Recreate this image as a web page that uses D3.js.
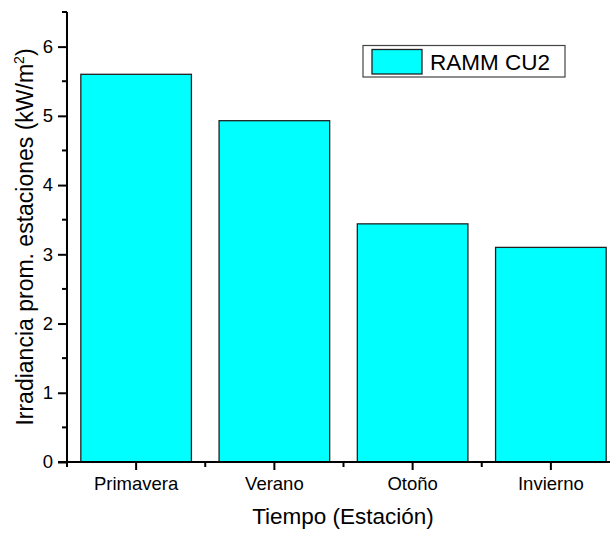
<!DOCTYPE html>
<html>
<head>
<meta charset="utf-8">
<script src="https://cdn.jsdelivr.net/npm/d3@7"></script>
<style>
  html, body { margin: 0; padding: 0; background: #fff; }
  svg { display: block; font-family: "Liberation Sans", Arial, sans-serif; }
</style>
</head>
<body>
<svg id="chart" width="610" height="533"></svg>
<script>
const categories = ["Primavera", "Verano", "Otoño", "Invierno"];
const values = [5.60, 4.93, 3.44, 3.10];
const seriesName = "RAMM CU2";
const yTicks = [0, 1, 2, 3, 4, 5, 6];
const yMinorTicks = [0.5, 1.5, 2.5, 3.5, 4.5, 5.5, 6.5];

const svg = d3.select("#chart");
const x0 = 67, x1 = 620, yTop = 12, yBot = 462;
const FONT = "Liberation Sans, Arial, sans-serif";

const x = d3.scaleBand().domain(categories).range([x0, x1]).paddingInner(0.2).paddingOuter(0.1);
const y = d3.scaleLinear().domain([0, 6.5]).range([yBot, yTop]);

// bars
svg.append("g").selectAll("rect").data(values).join("rect")
  .attr("x", (d, i) => x(categories[i]))
  .attr("y", d => y(d))
  .attr("width", x.bandwidth())
  .attr("height", d => y(0) - y(d))
  .attr("fill", "#00FFFF")
  .attr("stroke", "#222")
  .attr("stroke-width", 1.3);

// y axis
const yAxis = svg.append("g").attr("transform", `translate(${x0},0)`)
  .call(d3.axisLeft(y).tickValues(yTicks).tickSize(9).tickPadding(5).tickFormat(d3.format("d")));
yAxis.select(".domain").attr("stroke", "#000").attr("stroke-width", 2).attr("d", `M0,${yBot}V${yTop}`);
yAxis.selectAll(".tick line").attr("stroke", "#000").attr("stroke-width", 2);
yAxis.selectAll(".tick text").attr("font-size", 18.5).attr("fill", "#000").attr("font-family", FONT);
svg.append("g").selectAll("line").data(yMinorTicks).join("line")
  .attr("x1", x0 - 5).attr("x2", x0).attr("y1", d => y(d)).attr("y2", d => y(d))
  .attr("stroke", "#000").attr("stroke-width", 2);

// x axis
const xAxis = svg.append("g").attr("transform", `translate(0,${yBot})`)
  .call(d3.axisBottom(x).tickSize(8).tickPadding(7));
xAxis.select(".domain").attr("stroke", "#000").attr("stroke-width", 2).attr("d", `M${x0 - 9},0H${x1}`);
xAxis.selectAll(".tick line").attr("stroke", "#000").attr("stroke-width", 2);
xAxis.selectAll(".tick text").attr("font-size", 18.5).attr("fill", "#000").attr("font-family", FONT);
const boundaries = categories.map(c => x(c) - x.step() * x.paddingInner() / 2);
svg.append("g").selectAll("line").data(boundaries).join("line")
  .attr("x1", d => d).attr("x2", d => d).attr("y1", yBot).attr("y2", yBot + 5)
  .attr("stroke", "#000").attr("stroke-width", 2);

// axis titles
svg.append("text").attr("x", 343).attr("y", 524).attr("text-anchor", "middle")
  .attr("font-size", 22.5).attr("fill", "#000").text("Tiempo (Estación)");
const yt = svg.append("text").attr("transform", "translate(33,237) rotate(-90)")
  .attr("text-anchor", "middle").attr("font-size", 23).attr("fill", "#000");
yt.append("tspan").text("Irradiancia prom. estaciones (kW/m");
yt.append("tspan").attr("dy", -9).attr("font-size", 14).text("2");
yt.append("tspan").attr("dy", 9).text(")");

// legend
const lg = svg.append("g");
lg.append("rect").attr("x", 363).attr("y", 45.5).attr("width", 202).attr("height", 31.5)
  .attr("fill", "#fff").attr("stroke", "#444").attr("stroke-width", 1.2);
lg.append("rect").attr("x", 372).attr("y", 49.5).attr("width", 50).attr("height", 24.5)
  .attr("fill", "#00FFFF").attr("stroke", "#222").attr("stroke-width", 1.3);
lg.append("text").attr("x", 430).attr("y", 70).attr("font-size", 22.5).attr("fill", "#000").text(seriesName);
</script>
</body>
</html>
